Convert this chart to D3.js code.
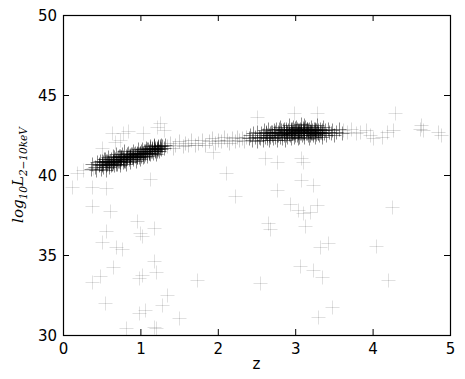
<!DOCTYPE html>
<html><head><meta charset="utf-8">
<script src="https://cdn.jsdelivr.net/npm/d3@7"></script>
<style>body{margin:0;background:#fff}svg{display:block}</style>
</head><body><svg id="c" width="465" height="379"></svg>
<script>
const xTicks = [0,1,2,3,4,5];
const yTicks = [30,35,40,45,50];
const xLabel = "z";

// dense low-z sequence
const clusterLowZ = [[0.36,40.4],[0.38,40.7],[0.41,40.5],[0.43,40.3],[0.44,40.8],[0.47,40.6],[0.48,40.9],[0.49,40.4],
[0.51,40.7],[0.52,40.5],[0.53,41.0],[0.54,40.8],[0.55,40.6],[0.56,40.3],[0.57,40.9],[0.58,41.1],[0.59,40.7],
[0.60,40.5],[0.61,40.9],[0.62,41.0],[0.63,40.7],[0.64,41.2],[0.65,40.8],[0.66,40.6],[0.67,41.0],[0.68,40.9],[0.69,41.3],
[0.70,40.7],[0.71,41.1],[0.72,40.9],[0.73,41.2],[0.74,40.6],[0.75,41.0],[0.76,41.3],[0.77,40.8],[0.78,41.1],[0.79,41.5],
[0.80,40.9],[0.81,41.2],[0.82,40.7],[0.83,41.1],[0.84,41.4],[0.85,41.0],[0.86,41.2],[0.87,40.8],[0.88,41.3],[0.89,41.1],
[0.90,41.5],[0.91,41.0],[0.92,41.3],[0.93,41.2],[0.94,40.9],[0.95,41.4],[0.96,41.1],[0.97,41.6],[0.98,41.3],[0.99,41.0],
[1.00,41.4],[1.01,41.2],[1.02,41.6],[1.03,41.3],[1.04,41.1],[1.05,41.5],[1.06,41.3],[1.07,41.7],[1.08,41.4],[1.09,41.2],
[1.10,41.6],[1.11,41.4],[1.12,41.8],[1.13,41.3],[1.14,41.5],[1.15,41.7],[1.16,41.4],[1.17,41.6],[1.18,41.9],[1.19,41.5],
[1.20,41.3],[1.21,41.7],[1.22,41.6],[1.23,41.8],[1.24,41.5],[1.25,41.7],[1.26,41.9],[1.27,41.6],[1.28,41.8],[1.30,41.7],[1.32,41.9],
[0.46,40.7],[0.50,40.6],[0.54,41.0],[0.57,40.7],[0.60,40.8],[0.62,40.6],[0.64,40.9],[0.66,41.1],[0.68,40.7],[0.70,41.0],
[0.72,41.2],[0.73,40.8],[0.75,41.1],[0.77,41.0],[0.79,40.9],[0.81,41.0],[0.83,41.3],[0.85,41.2],[0.87,41.1],[0.89,41.3],
[0.91,41.2],[0.93,41.4],[0.95,41.1],[0.97,41.3],[0.99,41.4],[1.01,41.5],[1.03,41.4],[1.05,41.2],[1.07,41.5],[1.09,41.6],
[1.11,41.5],[1.13,41.7],[1.15,41.5],[1.17,41.8],[1.19,41.7],[1.21,41.5],[1.23,41.6],[1.25,41.8],[0.74,41.0],[0.86,41.1],
[0.96,41.3],[1.06,41.5],[0.64,40.8],[0.58,40.8],[0.52,40.8],
[0.555,40.85],[0.615,40.75],[0.655,40.95],[0.705,40.85],[0.745,41.15],[0.785,40.95],[0.825,41.05],[0.865,41.25],[0.905,41.15],
[0.945,41.25],[0.985,41.15],[1.025,41.35],[1.065,41.45],[1.105,41.35],[1.145,41.65],[1.185,41.55],[1.225,41.75],[0.505,40.85]];

// sparse bridge between the two dense groups
const bridge = [[1.35,41.8],[1.38,42.0],[1.42,41.7],[1.45,41.9],[1.50,42.1],[1.55,41.8],[1.58,42.0],[1.62,41.9],[1.66,42.2],
[1.70,41.9],[1.75,42.0],[1.80,42.2],[1.84,41.9],[1.88,42.1],[1.92,42.3],[1.96,42.0],[2.00,42.2],[2.04,42.1],[2.08,42.4],
[2.12,42.2],[2.15,42.0],[2.18,42.3],[2.22,42.1],[2.25,42.4],[2.28,42.2],[2.31,42.3],[2.34,42.1],[2.37,42.4]];

// dense high-z group
const clusterHighZ = [[2.40,42.3],[2.42,42.5],[2.44,42.2],[2.46,42.6],[2.48,42.4],[2.50,42.1],[2.51,42.7],[2.53,42.4],[2.55,42.3],[2.56,42.6],[2.58,42.5],[2.59,42.2],
[2.60,42.8],[2.61,42.4],[2.62,42.6],[2.63,42.3],[2.64,42.5],[2.65,42.9],[2.66,42.2],[2.67,42.6],[2.68,42.4],[2.69,42.7],
[2.70,42.5],[2.71,42.3],[2.72,42.8],[2.73,42.6],[2.74,42.4],[2.75,42.9],[2.76,42.5],[2.77,42.2],[2.78,42.7],[2.79,42.6],
[2.80,42.4],[2.81,43.0],[2.82,42.6],[2.83,42.3],[2.84,42.8],[2.85,42.5],[2.86,42.7],[2.87,42.2],[2.88,42.9],[2.89,42.6],
[2.90,42.4],[2.91,42.8],[2.92,43.1],[2.93,42.5],[2.94,42.7],[2.95,42.3],[2.96,42.9],[2.97,42.6],[2.98,42.8],[2.99,42.4],
[3.00,42.7],[3.01,43.0],[3.02,42.5],[3.03,42.8],[3.04,42.3],[3.05,42.7],[3.06,42.9],[3.07,42.6],[3.08,43.2],[3.09,42.5],
[3.10,42.8],[3.11,42.4],[3.12,42.7],[3.13,43.0],[3.14,42.6],[3.15,42.9],[3.16,42.5],[3.17,42.8],[3.18,42.3],[3.19,42.7],
[3.20,43.0],[3.21,42.6],[3.22,42.8],[3.23,42.5],[3.24,42.9],[3.25,42.7],[3.26,42.4],[3.27,42.8],[3.28,43.1],[3.29,42.6],
[3.30,42.8],[3.31,42.5],[3.32,42.9],[3.33,42.7],[3.34,42.4],[3.35,42.8],[3.36,43.0],[3.37,42.6],[3.38,42.8],[3.40,42.5],
[3.42,42.9],[3.44,42.7],[3.46,42.6],[3.48,42.8],[3.50,42.5],[3.53,42.7],[3.56,42.9],[3.60,42.6],
[2.74,42.7],[2.78,42.5],[2.82,42.8],[2.85,42.7],[2.88,42.5],[2.90,42.7],[2.92,42.6],[2.94,42.9],[2.96,42.6],[2.98,42.6],
[3.00,42.5],[3.02,42.9],[3.04,42.7],[3.06,42.6],[3.08,42.8],[3.10,42.6],[3.12,42.9],[3.14,42.8],[3.16,42.7],[3.18,42.9],
[3.20,42.7],[3.22,42.6],[3.24,42.7],[3.26,42.9],[3.28,42.7],[3.30,42.6],[3.32,42.7],[2.86,42.9],[2.95,42.8],[3.05,42.8],
[3.15,42.6],[3.25,42.8],[2.70,42.7],[2.66,42.5],[2.62,42.7],[3.35,42.6],[3.05,42.4],[2.97,43.0],[3.11,43.1],[3.19,42.5],
[2.875,42.75],[2.915,42.55],[2.955,42.65],[2.995,42.95],[3.035,42.65],[3.075,42.75],[3.115,42.65],[3.155,42.85],[3.195,42.75],
[3.235,42.65],[2.835,42.55],[2.795,42.85],[3.275,42.55],[3.015,42.75],[3.095,42.95]];

// sparse tail beyond z~3.6
const tail = [[3.62,42.8],[3.67,42.7],[3.72,42.9],[3.78,42.6],[3.84,42.7],[3.92,42.8],[3.96,42.5],[4.01,42.3],[4.12,42.4],
[4.18,42.7],[4.27,42.8],[4.61,42.9],[4.65,42.8],[4.62,43.1],[4.84,42.7],[4.89,42.5]];

// scattered sources away from the main sequence
const outliers = [[0.63,42.61],[0.67,42.08],[0.84,42.77],[0.78,42.63],[1.04,42.61],[1.21,43.02],[1.30,42.81],[1.25,43.25],
[0.50,41.69],[0.74,42.19],[0.26,40.31],[0.18,40.11],[0.39,40.42],[0.11,39.25],[0.37,39.25],[0.56,39.19],[1.13,39.75],
[0.37,38.06],[0.61,37.77],[0.96,37.14],[1.18,36.67],[0.56,36.52],[0.99,36.39],[1.02,36.19],[0.50,35.83],[0.69,35.52],
[0.76,35.38],[1.18,34.64],[0.65,34.27],[1.20,33.96],[1.02,33.75],[0.98,33.54],[0.48,33.69],[0.38,33.33],[0.54,32.02],
[1.34,32.50],[1.28,31.88],[1.06,31.56],[0.98,31.39],[1.50,31.08],[0.82,30.42],[1.18,30.52],[1.20,30.42],
[2.50,43.64],[2.98,43.86],[2.61,41.04],[2.76,40.83],[2.11,40.11],[3.08,41.04],[3.08,39.69],[2.76,39.06],[2.22,38.69],
[1.94,41.46],[2.93,38.19],[3.04,37.81],[3.10,37.61],[3.13,36.81],[2.65,36.98],[2.67,36.61],[3.06,34.31],[1.73,33.44],
[2.55,33.23],[3.28,38.13],[3.19,37.71],[4.25,38.02],[3.32,35.52],[3.43,35.73],[4.04,35.56],[3.23,34.06],[3.34,33.61],
[4.20,33.44],[3.47,31.77],[3.30,31.11],[3.28,43.86],[4.29,43.86],[3.10,40.83],[3.23,39.38]];

const svg = d3.select("#c");
const m = {l:63, t:15, r:15, b:44};
const W = 465 - m.l - m.r, H = 379 - m.t - m.b;
const x = d3.scaleLinear().domain([0,5]).range([m.l, m.l+W]);
const y = d3.scaleLinear().domain([30,50]).range([m.t+H, m.t]);

const plot = svg.append("g");
plot.append("clipPath").attr("id","clip").append("rect").attr("x",m.l).attr("y",m.t).attr("width",W).attr("height",H);
const pts = plot.append("g").attr("clip-path","url(#clip)");
const s = 7;
function cross(g, data, op){
  g.selectAll(null).data(data).enter().append("path")
    .attr("d", d => { const px = Math.round(x(d[0]))+0.5, py = Math.round(y(d[1]))+0.5;
      return `M${px-s},${py}H${px+s}M${px},${py-s}V${py+s}`; })
    .attr("fill","none").attr("stroke","#000").attr("stroke-width",1).attr("stroke-opacity",op);
}
cross(pts, outliers, 0.12);
cross(pts, tail, 0.14);
cross(pts, bridge, 0.18);
cross(pts, clusterLowZ, 0.45);
cross(pts, clusterHighZ, 0.45);

// axes, inward ticks on all sides
const font = "'DejaVu Sans', sans-serif";
const ax = svg.append("g");
const axB = ax.append("g").attr("transform",`translate(0,${m.t+H})`).call(d3.axisBottom(x).tickValues(xTicks).tickSize(-6).tickPadding(8).tickFormat(d3.format("d")));
const axT = ax.append("g").attr("transform",`translate(0,${m.t})`).call(d3.axisTop(x).tickValues(xTicks).tickSize(-6).tickFormat(""));
const axL = ax.append("g").attr("transform",`translate(${m.l},0)`).call(d3.axisLeft(y).tickValues(yTicks).tickSize(-6).tickPadding(6).tickFormat(d3.format("d")));
const axR = ax.append("g").attr("transform",`translate(${m.l+W},0)`).call(d3.axisRight(y).tickValues(yTicks).tickSize(-6).tickFormat(""));
ax.selectAll(".domain").remove();
ax.selectAll(".tick line").attr("stroke","#000").attr("stroke-width",1);
ax.selectAll("text").attr("font-family",font).attr("font-size",15).attr("fill","#000");
axL.selectAll("text").attr("dy","0.36em");
svg.append("rect").attr("x",m.l+0.5).attr("y",m.t+0.5).attr("width",W).attr("height",H).attr("fill","none").attr("stroke","#000").attr("stroke-width",1.2);

svg.append("text").attr("x", m.l+W/2).attr("y", 369).attr("text-anchor","middle").attr("font-family",font).attr("font-size",15).text(xLabel);

const yl = svg.append("text").attr("transform",`translate(23,${m.t+H/2}) rotate(-90)`).attr("text-anchor","middle")
  .attr("font-family","'DejaVu Serif', serif").attr("font-style","italic").attr("font-size",15);
yl.append("tspan").text("log");
yl.append("tspan").attr("font-size",10.5).attr("dy",4).text("10");
yl.append("tspan").attr("dy",-4).text("L");
yl.append("tspan").attr("font-size",10.5).attr("dy",4).text("2\u221210keV");
</script></body></html>
